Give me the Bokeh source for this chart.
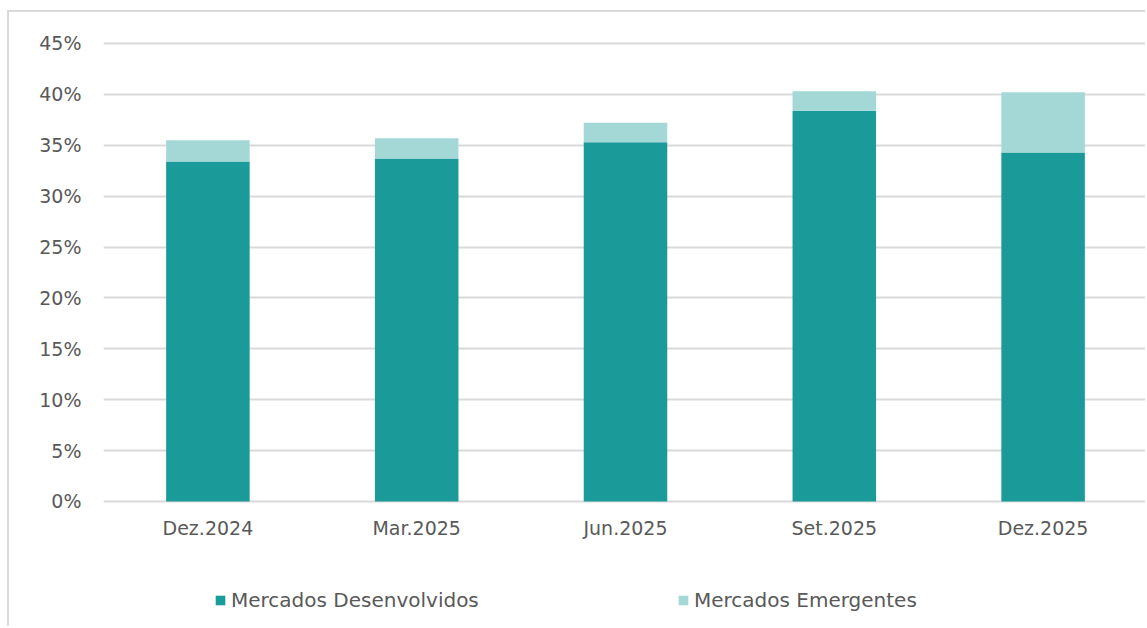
from bokeh.plotting import figure
from bokeh.models import (FactorRange, Range1d, FixedTicker, PrintfTickFormatter,
                          Legend, LegendItem, ColumnDataSource)
from bokeh.embed import file_html
from bokeh.resources import INLINE

categories = ["Dez.2024", "Mar.2025", "Jun.2025", "Set.2025", "Dez.2025"]
desenvolvidos = [33.4, 33.7, 35.3, 38.4, 34.3]
emergentes = [2.1, 2.0, 1.9, 1.9, 5.9]
y_ticks = [0, 5, 10, 15, 20, 25, 30, 35, 40, 45]

series = ["Mercados Desenvolvidos", "Mercados Emergentes"]
colors = ["#1a9a98", "#a3d8d6"]

src = ColumnDataSource(dict(cat=categories,
                            **{series[0]: desenvolvidos, series[1]: emergentes}))

FONT = "DejaVu Sans"
TXT = "#595959"

p = figure(x_range=FactorRange(*categories, range_padding=0),
           y_range=Range1d(-12.48, 45.49),
           width=1138, height=616, output_backend="svg", toolbar_location=None,
           min_border_left=94, min_border_right=0, min_border_top=26,
           min_border_bottom=0)

r = p.vbar_stack(series, x="cat", width=0.40, color=colors, line_color=None,
                 source=src)

p.outline_line_color = None
p.background_fill_color = "white"
p.border_fill_color = "white"
p.styles = {"border-left": "2px solid #d9d9d9", "border-top": "2px solid #d9d9d9",
            "margin-left": "7px", "margin-top": "10px"}

p.xgrid.grid_line_color = None
p.ygrid.grid_line_color = "#d9d9d9"
p.ygrid.grid_line_width = 2
p.ygrid.ticker = FixedTicker(ticks=y_ticks)

p.yaxis.ticker = FixedTicker(ticks=y_ticks)
p.yaxis.formatter = PrintfTickFormatter(format="%d%%")
p.xaxis.fixed_location = 0
for ax in (p.xaxis[0], p.yaxis[0]):
    ax.axis_line_color = None
    ax.major_tick_line_color = None
    ax.minor_tick_line_color = None
    ax.major_label_text_font = FONT
    ax.major_label_text_font_size = "19px"
    ax.major_label_text_color = TXT
p.yaxis.major_label_standoff = 16
p.xaxis.major_label_standoff = 10

leg = Legend(items=[LegendItem(label=series[i], renderers=[r[i]]) for i in range(2)],
             location=(111, 16), orientation="horizontal",
             padding=0, margin=0, spacing=104, label_width=342,
             glyph_width=12, glyph_height=12,
             label_standoff=5, border_line_color=None,
             background_fill_alpha=0,
             label_text_font=FONT, label_text_font_size="20px",
             label_text_color=TXT)
p.add_layout(leg, "center")

open("out.html", "w").write(file_html(p, INLINE))
